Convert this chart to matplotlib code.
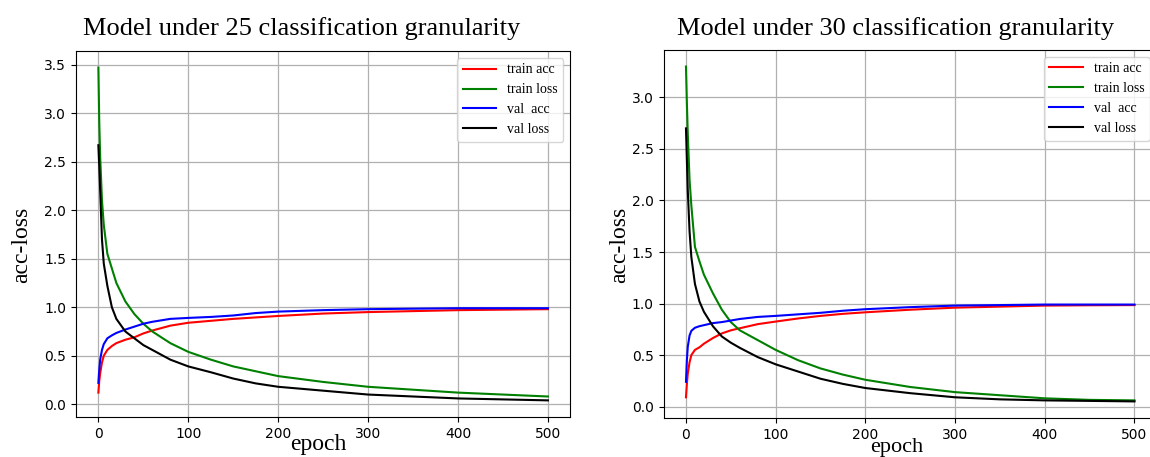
import matplotlib
matplotlib.use("Agg")
import matplotlib.pyplot as plt

epochs = [0, 1, 2, 4, 6, 10, 15, 20, 30, 40, 50, 60, 80, 100, 125, 150, 175, 200, 250, 300, 350, 400, 450, 500]

# model under 25 classification granularity
train_acc_25 = [0.12, 0.24, 0.32, 0.43, 0.50, 0.56, 0.60, 0.63, 0.665, 0.69, 0.73, 0.76, 0.81, 0.84, 0.86, 0.88, 0.895, 0.91, 0.935, 0.95, 0.96, 0.97, 0.975, 0.98]
train_loss_25 = [3.47, 2.90, 2.55, 2.10, 1.85, 1.55, 1.40, 1.25, 1.06, 0.93, 0.83, 0.75, 0.63, 0.54, 0.46, 0.39, 0.34, 0.29, 0.23, 0.18, 0.15, 0.12, 0.10, 0.08]
val_acc_25 = [0.22, 0.36, 0.46, 0.56, 0.62, 0.68, 0.71, 0.735, 0.77, 0.80, 0.83, 0.85, 0.88, 0.89, 0.90, 0.915, 0.94, 0.955, 0.97, 0.98, 0.985, 0.99, 0.99, 0.99]
val_loss_25 = [2.67, 2.45, 2.20, 1.70, 1.45, 1.22, 1.00, 0.88, 0.75, 0.68, 0.61, 0.56, 0.46, 0.39, 0.33, 0.265, 0.215, 0.18, 0.14, 0.10, 0.08, 0.06, 0.05, 0.04]

# model under 30 classification granularity
train_acc_30 = [0.09, 0.22, 0.32, 0.43, 0.50, 0.55, 0.575, 0.61, 0.665, 0.71, 0.74, 0.76, 0.80, 0.825, 0.855, 0.88, 0.90, 0.915, 0.94, 0.96, 0.97, 0.98, 0.983, 0.985]
train_loss_30 = [3.30, 2.95, 2.65, 2.20, 1.95, 1.55, 1.41, 1.28, 1.10, 0.94, 0.82, 0.74, 0.645, 0.55, 0.45, 0.37, 0.31, 0.26, 0.19, 0.14, 0.11, 0.08, 0.065, 0.06]
val_acc_30 = [0.24, 0.45, 0.58, 0.69, 0.735, 0.765, 0.78, 0.79, 0.81, 0.82, 0.835, 0.85, 0.87, 0.88, 0.895, 0.91, 0.93, 0.945, 0.965, 0.98, 0.985, 0.99, 0.99, 0.99]
val_loss_30 = [2.70, 2.40, 2.10, 1.70, 1.45, 1.19, 1.02, 0.92, 0.78, 0.68, 0.62, 0.57, 0.48, 0.41, 0.34, 0.27, 0.22, 0.18, 0.13, 0.09, 0.07, 0.06, 0.055, 0.05]

titles = ["Model under 25 classification granularity", "Model under 30 classification granularity"]
labels = ["train acc", "train loss", "val  acc", "val loss"]
colors = ["r", "g", "b", "k"]

serif = "Liberation Serif"

fig = plt.figure(figsize=(11.5, 4.57), dpi=100)
ax1 = fig.add_axes([0.066, 0.0875, 0.430, 0.801])
ax2 = fig.add_axes([0.577, 0.085, 0.429, 0.806])

panels = [
    (ax1, [train_acc_25, train_loss_25, val_acc_25, val_loss_25]),
    (ax2, [train_acc_30, train_loss_30, val_acc_30, val_loss_30]),
]

for ax, series in panels:
    for vals, lab, c in zip(series, labels, colors):
        ax.plot(epochs, vals, color=c, lw=1.5, label=lab)
    ax.grid(True, color="#b0b0b0", lw=0.9)
    ax.set_xticks([0, 100, 200, 300, 400, 500])
    ax.tick_params(labelsize=10)
    ax.legend(loc="upper right", prop={"family": serif, "size": 10},
              handlelength=2.4, borderaxespad=0.5, fancybox=True)

# titles and axis labels placed like the original image
fig.text(0.262, 0.937, titles[0], ha="center", va="center", family=serif, fontsize=19)
fig.text(0.779, 0.937, titles[1], ha="center", va="center", family=serif, fontsize=19)
fig.text(0.019, 0.465, "acc-loss", rotation=90, ha="center", va="center", family=serif, fontsize=17)
fig.text(0.539, 0.465, "acc-loss", rotation=90, ha="center", va="center", family=serif, fontsize=17)
fig.text(0.277, 0.028, "epoch", ha="center", va="center", family=serif, fontsize=17)
fig.text(0.780, 0.021, "epoch", ha="center", va="center", family=serif, fontsize=16)

fig.savefig("out.png", dpi=100)
